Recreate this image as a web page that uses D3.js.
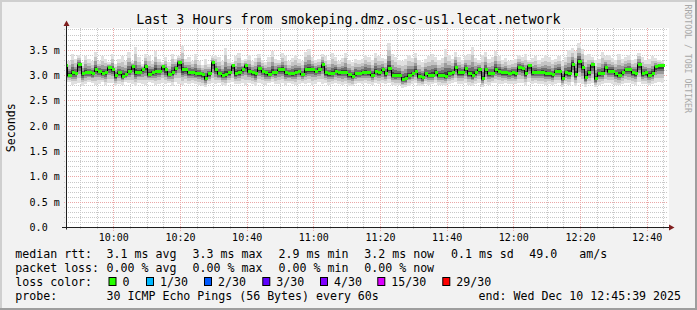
<!doctype html>
<html>
  <head>
    <meta charset="utf-8">
    <title>Smokeping - last 3 hours</title>
    <script src="https://cdnjs.cloudflare.com/ajax/libs/d3/7.8.5/d3.min.js"></script>
    <style>
      html, body { margin: 0; padding: 0; background: #f2f2f2; }
      svg { display: block; font-family: "DejaVu Sans Mono", monospace; }
      text { white-space: pre; }
    </style>
  </head>
  <body>
    <div id="chart"></div>
    <script>

      // median rtt per minute (ms), 09:45 -> 12:45
      const median = [
        3.18,3.00,3.05,3.03,3.20,3.03,3.06,3.05,3.03,3.11,3.08,3.03,3.05,3.15,3.10,2.99,3.05,2.98,3.01,3.08,
        3.16,3.05,3.06,3.11,3.16,3.01,3.05,3.08,3.08,3.16,3.10,3.01,3.06,3.13,3.24,3.10,3.11,3.05,3.05,3.04,
        3.03,3.01,2.93,3.03,3.24,
        3.11,3.03,3.00,3.01,3.05,3.18,3.03,3.05,3.10,3.18,3.08,3.05,3.03,3.13,3.08,3.05,3.01,3.06,3.05,3.11,
        3.11,3.05,3.03,3.03,3.05,3.08,3.01,3.10,3.11,3.11,3.08,3.11,3.20,3.05,3.03,3.03,3.08,3.05,3.06,3.06,
        3.01,2.98,3.03,3.03,
        3.05,3.06,3.05,3.00,3.08,3.05,3.10,3.03,3.13,3.00,3.00,3.00,2.92,2.93,3.00,3.03,3.08,2.98,2.95,3.03,
        3.00,3.00,3.06,3.00,3.00,2.98,3.03,3.05,3.15,3.05,3.05,3.13,3.03,3.00,3.05,3.11,2.93,3.10,3.03,3.03,
        3.11,3.08,3.05,3.05,3.03,
        3.05,3.03,3.15,3.13,3.03,3.18,3.05,3.06,3.06,3.06,3.03,3.03,3.01,3.08,3.08,2.93,3.05,3.03,3.21,3.01,
        3.26,3.15,2.95,3.05,3.20,2.93,3.03,3.03,3.15,3.08,3.08,3.03,3.00,3.05,3.10,3.10,3.05,3.03,3.20,3.03,
        3.05,3.00,3.03,3.16,3.18,3.18
      ];

      // slowest ping per minute (top of the smoke)
      const smokeTop = [
        3.33,3.29,3.42,3.33,3.41,3.26,3.39,3.33,3.29,3.46,3.29,3.39,3.33,3.26,3.42,3.23,3.33,3.39,3.29,3.46,
        3.29,3.56,3.36,3.23,3.42,3.39,3.29,3.49,3.33,3.26,3.36,3.26,3.42,3.33,3.39,3.59,3.33,3.36,3.29,3.42,
        3.29,3.20,3.33,3.23,3.39,
        3.40,3.36,3.29,3.55,3.33,3.26,3.38,3.45,3.30,3.33,3.40,3.28,3.35,3.42,3.30,3.26,3.36,3.48,3.33,3.30,
        3.44,3.38,3.29,3.35,3.40,3.32,3.28,3.46,3.52,3.36,3.30,3.33,3.42,3.38,3.30,3.44,3.36,3.29,3.34,3.45,
        3.31,3.27,3.33,3.30,
        3.33,3.40,3.36,3.30,3.45,3.38,3.35,3.33,3.65,3.42,3.36,3.30,3.28,3.33,3.40,3.35,3.44,3.30,3.26,3.33,
        3.38,3.42,3.36,3.30,3.35,3.52,3.40,3.33,3.46,3.36,3.30,3.38,3.42,3.56,3.34,3.30,3.40,3.46,3.33,3.36,
        3.48,3.38,3.30,3.35,3.28,
        3.30,3.33,3.40,3.36,3.42,3.30,3.35,3.38,3.30,3.34,3.40,3.36,3.30,3.33,3.38,3.28,3.36,3.50,3.55,3.48,
        3.65,3.52,3.40,3.42,3.36,3.30,3.33,3.46,3.38,3.40,3.35,3.30,3.42,3.33,3.36,3.40,3.30,3.33,3.45,3.36,
        3.30,3.33,3.38,3.35,3.30,3.28
      ];

      // fastest ping per minute (bottom of the smoke)
      const smokeBottom = [
        2.85,2.88,2.82,2.84,2.86,2.80,2.83,2.87,2.85,2.82,2.84,2.88,2.81,2.85,2.86,2.80,2.84,2.82,2.87,2.85,
        2.83,2.80,2.86,2.84,2.82,2.88,2.85,2.81,2.84,2.86,2.83,2.85,2.80,2.87,2.84,2.82,2.85,2.83,2.86,2.84,
        2.81,2.80,2.78,2.83,2.85,
        2.84,2.86,2.82,2.80,2.85,2.87,2.83,2.84,2.86,2.82,2.85,2.83,2.80,2.86,2.84,2.82,2.85,2.87,2.83,2.84,
        2.86,2.82,2.85,2.83,2.81,2.84,2.86,2.83,2.85,2.82,2.84,2.87,2.83,2.85,2.82,2.84,2.86,2.83,2.81,2.84,
        2.80,2.79,2.83,2.85,
        2.84,2.85,2.83,2.82,2.86,2.84,2.85,2.83,2.86,2.82,2.80,2.81,2.76,2.77,2.80,2.83,2.85,2.80,2.79,2.84,
        2.82,2.83,2.86,2.82,2.81,2.80,2.84,2.85,2.87,2.84,2.83,2.86,2.82,2.80,2.84,2.85,2.78,2.84,2.82,2.85,
        2.86,2.84,2.83,2.85,2.84,
        2.84,2.83,2.86,2.85,2.82,2.87,2.84,2.85,2.83,2.84,2.82,2.83,2.81,2.84,2.85,2.78,2.84,2.82,2.88,2.80,
        2.86,2.84,2.78,2.83,2.86,2.77,2.82,2.84,2.86,2.85,2.84,2.82,2.81,2.84,2.86,2.85,2.83,2.82,2.88,2.83,
        2.84,2.81,2.83,2.86,2.87,2.86
      ];

      const yTicks = [0, 0.5, 1.0, 1.5, 2.0, 2.5, 3.0, 3.5];
      const yTickLabels = ["0.0", "0.5 m", "1.0 m", "1.5 m", "2.0 m", "2.5 m", "3.0 m", "3.5 m"];

      const rttStats = ["3.1 ms avg", "3.3 ms max", "2.9 ms min", "3.2 ms now", "0.1 ms sd", "49.0", "am/s"];
      const lossStats = ["0.00 % avg", "0.00 % max", "0.00 % min", "0.00 % now"];
      const lossLabels = ["0", "1/30", "2/30", "3/30", "4/30", "15/30", "29/30"];
      const lossColors = ["#26ff00", "#00b8ff", "#0059ff", "#5e00ff", "#7e00ff", "#dd00ff", "#ff0000"];

      const title = "Last 3 Hours from smokeping.dmz.osc-us1.lecat.network";
      const probeText = "30 ICMP Echo Pings (56 Bytes) every 60s";
      const endText = "end: Wed Dec 10 12:45:39 2025";

      // ---- layout ----
      const W = 697, H = 310;
      const pLeft = 66, pRight = 666, pTop = 27.7, pBottom = 227.7;
      const tStart = new Date(2025, 11, 10, 9, 45, 39);
      const tEnd = new Date(2025, 11, 10, 12, 45, 39);
      const firstStep = new Date(2025, 11, 10, 9, 45, 0);
      const stepMs = 60 * 1000;

      const svg = d3.select('#chart')
        .append('svg')
        .attr('width', W)
        .attr('height', H);

      // dotted line patterns (1px on / 1px off)
      const defs = svg.append('defs');
      function dotPattern(id, col, horiz) {
        defs.append('pattern')
          .attr('id', id)
          .attr('patternUnits', 'userSpaceOnUse')
          .attr('width', horiz ? 2 : 1).attr('height', horiz ? 1 : 2)
          .append('rect')
          .attr('width', 1).attr('height', 1)
          .attr('fill', col);
      }
      dotPattern('minH', '#c8c8c8', true);
      dotPattern('minV', '#c8c8c8', false);
      dotPattern('majH', '#eba7a7', true);
      dotPattern('majV', '#eba7a7', false);

      // background + shaded frame
      svg.append('rect').attr('width', W).attr('height', H).attr('fill', '#f2f2f2');
      svg.append('path').attr('d', `M0,0H${W}V2H2V${H}H0Z`).attr('fill', '#cfcfcf');
      svg.append('path').attr('d', `M${W},${H}H0V${H-2}H${W-2}V0H${W}Z`).attr('fill', '#9e9e9e');

      const x = d3.scaleTime().domain([tStart, tEnd]).range([pLeft, pRight]);
      const y = d3.scaleLinear().domain([0, 200 / 50.71]).range([pBottom, pTop]);

      // canvas
      svg.append('rect')
        .attr('x', pLeft + 1).attr('y', 28)
        .attr('width', pRight - pLeft + 2).attr('height', 200)
        .attr('fill', '#ffffff');

      svg.append('clipPath').attr('id', 'plot-clip')
        .append('rect')
        .attr('x', pLeft + 1).attr('y', 28)
        .attr('width', pRight - pLeft).attr('height', 200);

      const data = median.map((m, i) => ({
        t0: new Date(firstStep.getTime() + i * stepMs),
        t1: new Date(firstStep.getTime() + (i + 1) * stepMs),
        med: m,
        hi: smokeTop[i],
        lo: smokeBottom[i]
      }));

      // grid (dotted) under the smoke
      const grid = svg.append('g').attr('shape-rendering', 'crispEdges');
      const minorY = y.ticks(40).filter(v => v > 0 && Math.abs(v * 2 - Math.round(v * 2)) > 1e-6);
      const majorY = yTicks.filter(v => v > 0);
      const minorX = x.ticks(d3.timeMinute.every(5)).filter(t => t.getMinutes() % 20 !== 0);
      const majorX = x.ticks(d3.timeMinute.every(20));

      function hLines(vals, pat, x0) {
        grid.append('g').selectAll('rect').data(vals).join('rect')
          .attr('x', x0).attr('width', pRight + 2 - x0)
          .attr('y', d => Math.floor(y(d))).attr('height', 1)
          .attr('fill', `url(#${pat})`);
      }
      function vLines(vals, pat, yEnd) {
        grid.append('g').selectAll('rect').data(vals).join('rect')
          .attr('x', d => Math.floor(x(d))).attr('width', 1)
          .attr('y', 28).attr('height', yEnd - 28)
          .attr('fill', `url(#${pat})`);
      }
      hLines(minorY, 'minH', pLeft - 2);
      vLines(minorX, 'minV', 230);
      hLines(majorY, 'majH', pLeft - 3);
      vLines(majorX, 'majV', 231);

      const plot = svg.append('g').attr('clip-path', 'url(#plot-clip)');

      // smoke: darker towards the median
      const shades = [
        { f: 1.00, c: '#e0e0e0' },
        { f: 0.72, c: '#c4c4c4' },
        { f: 0.48, c: '#9c9c9c' },
        { f: 0.30, c: '#6e6e6e' },
        { f: 0.15, c: '#3e3e3e' }
      ];

      shades.forEach(s => {
        plot.append('g')
          .attr('shape-rendering', 'crispEdges')
          .selectAll('rect')
          .data(data)
          .join('rect')
          .attr('x', d => x(d.t0))
          .attr('width', d => x(d.t1) - x(d.t0))
          .attr('y', d => y(d.med + s.f * (d.hi - d.med)))
          .attr('height', d => y(d.med - s.f * (d.med - d.lo)) - y(d.med + s.f * (d.hi - d.med)))
          .attr('fill', s.c);
      });

      // median: black step line + green (0 loss) segments
      const last = data[data.length - 1];
      const stepPts = data.map(d => [d.t0, d.med]).concat([[last.t1, last.med]]);
      plot.append('path')
        .attr('d', d3.line().x(d => Math.round(x(d[0])) + 0.5).y(d => Math.round(y(d[1])))
          .curve(d3.curveStepAfter)(stepPts))
        .attr('fill', 'none')
        .attr('stroke', '#000')
        .attr('stroke-width', 1);

      plot.append('g')
        .attr('shape-rendering', 'crispEdges')
        .selectAll('rect')
        .data(data)
        .join('rect')
        .attr('x', d => Math.round(x(d.t0)) + 1)
        .attr('width', d => Math.round(x(d.t1)) - Math.round(x(d.t0)))
        .attr('y', d => Math.round(y(d.med)) - 2)
        .attr('height', 3)
        .attr('fill', lossColors[0]);

      // axes
      const axisCol = '#1f1f1f', arrowCol = '#801f1f';
      const y0 = Math.floor(y(0)) + 0.5;
      svg.append('line')
        .attr('x1', pLeft + 0.5).attr('x2', pLeft + 0.5)
        .attr('y1', y0 + 2).attr('y2', 24)
        .attr('stroke', axisCol);
      svg.append('path')
        .attr('d', `M${pLeft + 0.5},20.5L${pLeft + 3.5},26L${pLeft - 2.5},26Z`)
        .attr('fill', arrowCol);
      svg.append('line')
        .attr('x1', pLeft - 4).attr('x2', pRight + 4)
        .attr('y1', y0).attr('y2', y0)
        .attr('stroke', axisCol);
      svg.append('path')
        .attr('d', `M${pRight + 8.5},${y0}L${pRight + 3},${y0 - 3}L${pRight + 3},${y0 + 3}Z`)
        .attr('fill', arrowCol);

      // tick labels
      const lab = svg.append('g').attr('font-size', '10px').attr('fill', '#000');
      lab.selectAll('.yl').data(yTicks).join('text')
        .attr('x', 29.6)
        .attr('y', d => Math.floor(y(d)) + 4.1)
        .text((d, i) => yTickLabels[i]);
      lab.selectAll('.xl').data(majorX).join('text')
        .attr('x', d => x(d))
        .attr('y', 241)
        .attr('text-anchor', 'middle')
        .text(d3.timeFormat('%H:%M'));

      // title and side texts
      svg.append('text')
        .attr('x', W / 2).attr('y', 23.8)
        .attr('text-anchor', 'middle')
        .attr('font-size', '13.3px')
        .text(title);

      svg.append('text')
        .attr('transform', `translate(14.5,${(pTop + pBottom) / 2}) rotate(-90)`)
        .attr('text-anchor', 'middle')
        .attr('font-size', '11.6px')
        .text('Seconds');

      svg.append('text')
        .attr('transform', `translate(684.5,4.5) rotate(90)`)
        .attr('font-size', '8.2px')
        .attr('fill', '#a8a8a8')
        .text('RRDTOOL / TOBI OETIKER');

      // legend
      const leg = svg.append('g').attr('font-size', '11.6px').attr('fill', '#000');
      const col1 = 15.3;
      const rows = [258, 272, 286, 300];
      const rttX = [106.6, 192.6, 278.6, 364.3, 451, 529.3, 579.3];
      const lossX = [106.6, 192.6, 278.6, 364.3];
      const swatchX = [108.5, 146, 204, 262.3, 320, 377.3, 442.3];

      leg.append('text').attr('x', col1).attr('y', rows[0]).text('median rtt:');
      leg.selectAll('.rtt').data(rttStats).join('text')
        .attr('x', (d, i) => rttX[i]).attr('y', rows[0]).text(d => d);

      leg.append('text').attr('x', col1).attr('y', rows[1]).text('packet loss:');
      leg.selectAll('.loss').data(lossStats).join('text')
        .attr('x', (d, i) => lossX[i]).attr('y', rows[1]).text(d => d);

      leg.append('text').attr('x', col1).attr('y', rows[2]).text('loss color:');
      leg.selectAll('.sw').data(lossColors).join('rect')
        .attr('x', (d, i) => swatchX[i] + 0.5).attr('y', rows[2] - 8.5)
        .attr('width', 7).attr('height', 8)
        .attr('fill', d => d)
        .attr('stroke', '#000');
      leg.selectAll('.swl').data(lossLabels).join('text')
        .attr('x', (d, i) => swatchX[i] + 14).attr('y', rows[2]).text(d => d);

      leg.append('text').attr('x', col1).attr('y', rows[3]).text('probe:');
      leg.append('text').attr('x', 106.6).attr('y', rows[3]).text(probeText);
      leg.append('text').attr('x', 681).attr('y', rows[3]).attr('text-anchor', 'end').text(endText);

    </script>
  </body>
</html>
